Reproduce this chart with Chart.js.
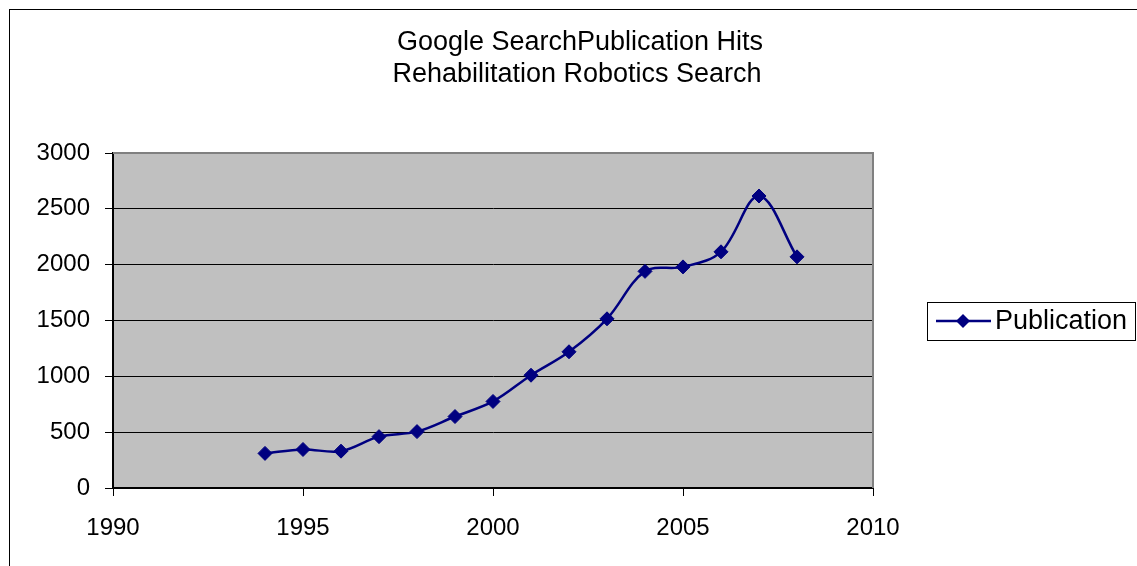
<!DOCTYPE html>
<html>
<head>
<meta charset="utf-8">
<script src="https://cdn.jsdelivr.net/npm/chart.js@4"></script>
<style>
  html, body { margin: 0; padding: 0; background: #fff; }
  #wrap { width: 1137px; height: 566px; position: relative; }
</style>
</head>
<body>
<div id="wrap"><canvas id="chart" width="1137" height="566"></canvas></div>
<script>
// Data
const years = [1994, 1995, 1996, 1997, 1998, 1999, 2000, 2001, 2002, 2003, 2004, 2005, 2006, 2007, 2008];
const hits = [310, 345, 330, 460, 505, 640, 775, 1010, 1220, 1515, 1940, 1980, 2115, 2615, 2070];
const titleLines = ['Google SearchPublication Hits', 'Rehabilitation Robotics Search'];
const seriesName = 'Publication';
const lineColor = '#000080';

Chart.defaults.font.family = '"Liberation Sans", Arial, sans-serif';
Chart.defaults.color = '#000';

// Grey plot background, frame and title/legend drawn by hand
const excelLook = {
    id: 'excelLook',
    beforeDraw(chart) {
        const { ctx, chartArea: a } = chart;
        ctx.save();
        ctx.fillStyle = '#C0C0C0';
        ctx.fillRect(a.left, a.top, a.right - a.left, a.bottom - a.top);
        // outer chart frame
        ctx.strokeStyle = '#000';
        ctx.lineWidth = 1;
        ctx.strokeRect(9.5, 9.5, 2000, 2000);
        ctx.restore();
    },
    afterDatasetsDraw(chart) {
        const { ctx, chartArea: a } = chart;
        ctx.save();
        // plot frame (grey top/right)
        ctx.strokeStyle = '#808080';
        ctx.lineWidth = 2;
        ctx.beginPath();
        ctx.moveTo(a.left, a.top);
        ctx.lineTo(a.right, a.top);
        ctx.lineTo(a.right, a.bottom);
        ctx.stroke();

        // title
        ctx.fillStyle = '#000';
        ctx.font = '27px "Liberation Sans", Arial, sans-serif';
        ctx.textAlign = 'center';
        ctx.textBaseline = 'middle';
        ctx.fillText(titleLines[0], 580, 43);
        ctx.fillText(titleLines[1], 577, 75);

        // legend
        ctx.strokeStyle = '#000';
        ctx.lineWidth = 1;
        ctx.strokeRect(927.5, 302.5, 208, 38);
        ctx.strokeStyle = lineColor;
        ctx.lineWidth = 2.5;
        ctx.beginPath();
        ctx.moveTo(936, 321);
        ctx.lineTo(991, 321);
        ctx.stroke();
        ctx.fillStyle = lineColor;
        ctx.beginPath();
        ctx.moveTo(963, 314); ctx.lineTo(970, 321); ctx.lineTo(963, 328); ctx.lineTo(956, 321);
        ctx.closePath();
        ctx.fill();
        ctx.fillStyle = '#000';
        ctx.textAlign = 'left';
        ctx.fillText(seriesName, 995, 322);
        ctx.restore();
    }
};

new Chart(document.getElementById('chart'), {
    type: 'line',
    data: {
        datasets: [{
            label: seriesName,
            data: years.map((y, i) => ({ x: y, y: hits[i] })),
            borderColor: lineColor,
            backgroundColor: lineColor,
            borderWidth: 2.5,
            tension: 0.35,
            pointStyle: 'rectRot',
            pointRadius: 7,
            pointBorderWidth: 1,
            pointBackgroundColor: lineColor,
            pointBorderColor: lineColor
        }]
    },
    options: {
        responsive: false,
        animation: false,
        layout: { padding: { top: 153, right: 264, left: 0, bottom: 0 } },
        plugins: {
            legend: { display: false },
            title: { display: false },
            tooltip: { enabled: false }
        },
        scales: {
            x: {
                type: 'linear',
                min: 1990,
                max: 2010,
                afterFit: s => { s.height = 78; },
                ticks: { stepSize: 5, font: { size: 24 }, padding: 18, callback: v => String(v) },
                grid: { drawOnChartArea: false, drawTicks: true, tickLength: 8, color: '#000' },
                border: { color: '#000', width: 2 }
            },
            y: {
                min: 0,
                max: 3000,
                afterFit: s => { s.width = 113; },
                ticks: { stepSize: 500, font: { size: 24 }, padding: 15, callback: v => String(v) },
                grid: { color: '#000', tickLength: 8 },
                border: { color: '#000', width: 2 }
            }
        }
    },
    plugins: [excelLook]
});
</script>
</body>
</html>
